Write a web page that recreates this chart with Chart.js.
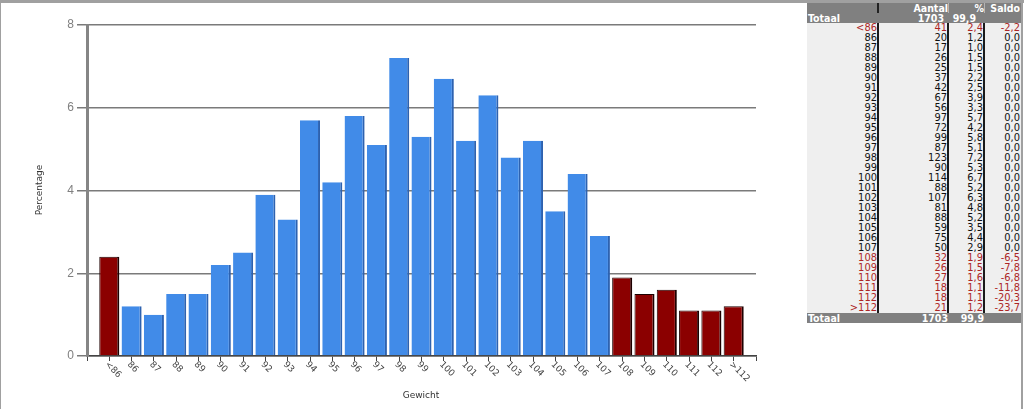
<!DOCTYPE html>
<html>
<head>
<meta charset="utf-8">
<script src="https://cdn.jsdelivr.net/npm/chart.js@4.4.1/dist/chart.umd.min.js"></script>
<style>
  body { margin: 0; background: #fff; width: 1024px; height: 409px; overflow: hidden; position: relative; }
  #topbar { position: absolute; left: 0; top: 0; width: 1024px; height: 3px; background: #a0a0a0; }
  #leftline { position: absolute; left: 0; top: 0; width: 1px; height: 409px; background: #a0a0a0; }
  #rightline { position: absolute; left: 1021px; top: 0; width: 2px; height: 409px; background: #a0a0a0; }
  #chartbox { position: absolute; left: 0; top: 0; width: 800px; height: 409px; }
  #tbl { position: absolute; left: 807px; top: 3px; width: 214px;
         font-family: "DejaVu Sans Condensed", "DejaVu Sans", sans-serif; font-size: 11px; }
  .row { display: flex; height: 10px; line-height: 10px; white-space: nowrap; }
  .row div { box-sizing: border-box; text-align: right; }
  .c1 { width: 72px; } .c2 { width: 70px; } .c3 { width: 36px; } .c4 { width: 36px; padding-right: 1px; }
  .grey { background: #808080; color: #fff; font-weight: bold; font-size: 10.5px; }
  .hdr .c1 { border-right: 2px solid #222; }
  .hdr .c2, .hdr .c3 { border-right: 1px solid #b4b4b4; }
  .body { background: #efefef; color: #111; }
  .body .c1, .body .c2, .body .c3 { border-right: 2px solid #1a1a1a; }
  .body.neg { color: #ad2626; }
  .tot .c1 { text-align: left; padding-left: 1px; }
</style>
</head>
<body>
<div id="topbar"></div>
<div id="leftline"></div>
<div id="rightline"></div>
<div id="chartbox"><canvas id="chart"></canvas></div>
<div id="tbl"></div>
<script>
var categories = ["<86", "86", "87", "88", "89", "90", "91", "92", "93", "94", "95", "96", "97", "98", "99",
  "100", "101", "102", "103", "104", "105", "106", "107", "108", "109", "110", "111", "112", ">112"]
var counts = [41, 20, 17, 26, 25, 37, 42, 67, 56, 97, 72, 99, 87, 123, 90,
  114, 88, 107, 81, 88, 59, 75, 50, 32, 26, 27, 18, 18, 21]
var percentages = [2.4, 1.2, 1.0, 1.5, 1.5, 2.2, 2.5, 3.9, 3.3, 5.7, 4.2, 5.8, 5.1, 7.2, 5.3,
  6.7, 5.2, 6.3, 4.8, 5.2, 3.5, 4.4, 2.9, 1.9, 1.5, 1.6, 1.1, 1.1, 1.2]
var saldo = [-2.2, 0, 0, 0, 0, 0, 0, 0, 0, 0, 0, 0, 0, 0, 0,
  0, 0, 0, 0, 0, 0, 0, 0, -6.5, -7.8, -6.8, -11.8, -20.3, -23.7]
var yTicks = [0, 2, 4, 6, 8]
var totalCount = 1703
var totalPct = 99.9

function fmt(v) {
  return v.toFixed(1).replace(".", ",")
}

// table on the right
var tbl = document.getElementById("tbl")
function addRow(cls, cells, styles) {
  var row = document.createElement("div")
  row.className = "row " + cls
  for (var i = 0; i < 4; i++) {
    var c = document.createElement("div")
    c.className = "c" + (i + 1)
    c.textContent = cells[i]
    if (styles && styles[i]) c.style.paddingRight = styles[i]
    row.appendChild(c)
  }
  tbl.appendChild(row)
}
addRow("grey hdr", ["", "Aantal", "%", "Saldo"])
addRow("grey tot", ["Totaal", String(totalCount), fmt(totalPct), ""], [null, "5px", "9px", null])
for (var i = 0; i < categories.length; i++) {
  addRow("body" + (saldo[i] < 0 ? " neg" : ""), [categories[i], String(counts[i]), fmt(percentages[i]), fmt(saldo[i])])
}
addRow("grey tot", ["Totaal", String(totalCount), fmt(totalPct), ""], [null, "1px", "1px", null])

// chart
var barData = percentages.map(function (v, i) { return { x: i, y: v } })
var fillColors = saldo.map(function (s) { return s < 0 ? "#8b0000" : "#418be8" })
var edgeColors = saldo.map(function (s) { return s < 0 ? "#1e0000" : "#2d62b0" })
var edgeWidths = saldo.map(function (s) {
  return s < 0 ? { top: 1, left: 1, right: 2, bottom: 0 } : { top: 0, left: 0, right: 2, bottom: 0 }
})

var labelPlugin = {
  id: "labels",
  afterDraw: function (chart) {
    var ctx = chart.ctx
    var xs = chart.scales.x
    ctx.save()
    ctx.fillStyle = "#444"
    ctx.font = "9px 'DejaVu Sans', sans-serif"
    ctx.textBaseline = "middle"
    ctx.textAlign = "left"
    for (var i = 0; i < categories.length; i++) {
      var px = xs.getPixelForValue(i)
      ctx.save()
      ctx.translate(px - 3, 363)
      ctx.rotate(Math.PI / 4)
      ctx.fillText(categories[i], 0, 0)
      ctx.restore()
    }
    ctx.fillStyle = "#333"
    ctx.textAlign = "center"
    ctx.fillText("Gewicht", 421, 396)
    ctx.translate(40, 190)
    ctx.rotate(-Math.PI / 2)
    ctx.fillText("Percentage", 0, 0)
    ctx.restore()
  }
}

var ctx = document.getElementById("chart").getContext("2d")
var myChart = new Chart(ctx, {
  type: "bar",
  data: {
    datasets: [{
      data: barData,
      backgroundColor: fillColors,
      borderColor: edgeColors,
      borderWidth: edgeWidths,
      borderSkipped: false,
      barPercentage: 0.9,
      categoryPercentage: 1.0,
    }],
  },
  options: {
    responsive: true,
    maintainAspectRatio: false,
    animation: false,
    layout: { padding: { left: 0, right: 44, top: 25, bottom: 0 } },
    plugins: { legend: { display: false }, tooltip: { enabled: false } },
    scales: {
      x: {
        type: "linear",
        offset: false,
        min: -1,
        max: 29,
        ticks: { display: false, stepSize: 1 },
        grid: { drawOnChartArea: false, drawTicks: true, tickLength: 5, color: "#444", offset: false },
        border: { color: "#444", width: 1.5 },
        afterFit: function (scale) { scale.height = 53 },
      },
      y: {
        min: 0,
        max: 8,
        afterBuildTicks: function (scale) {
          scale.ticks = yTicks.map(function (v) { return { value: v } })
        },
        ticks: { color: "#808080", padding: 3, font: { size: 12, family: "'Liberation Sans', sans-serif" } },
        grid: { color: "#7a7a7a", lineWidth: 1.5, tickLength: 10 },
        border: { color: "#858585", width: 3 },
        afterFit: function (scale) { scale.width = 87 },
      },
    },
  },
  plugins: [labelPlugin],
})
</script>
</body>
</html>
